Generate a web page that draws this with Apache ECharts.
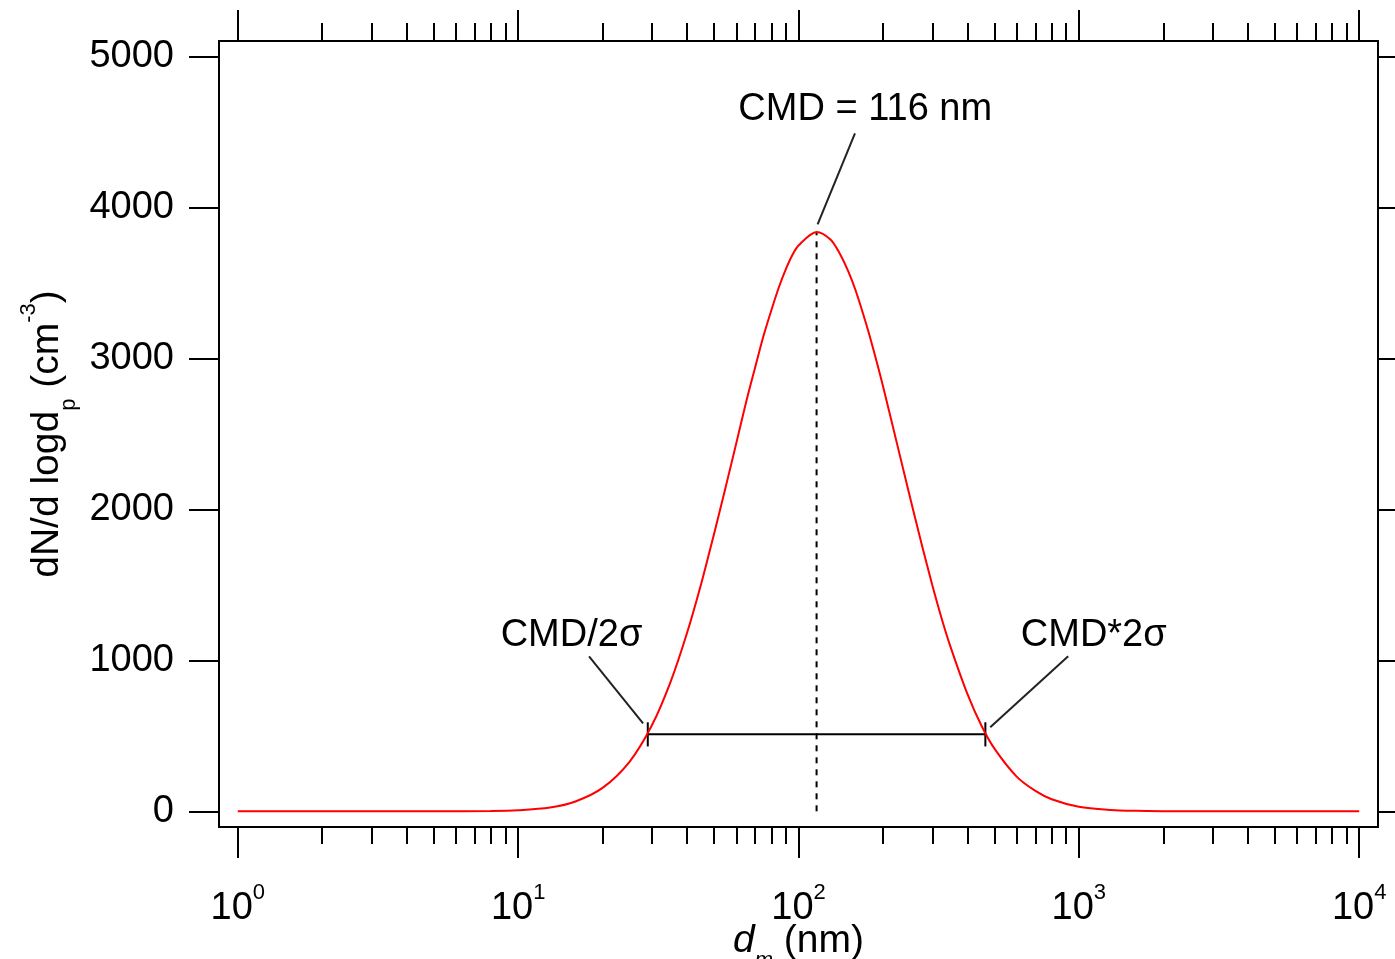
<!DOCTYPE html>
<html><head><meta charset="utf-8">
<script src="https://cdn.jsdelivr.net/npm/echarts@6/dist/echarts.min.js"></script>
<style>html,body{margin:0;padding:0;background:#fff}#c{width:1395px;height:959px}</style>
</head><body><div id="c"></div>
<script>
// ---- data ----
const diameters = [1, 2, 5, 8, 10, 13, 16, 20, 25, 30, 35, 40, 45, 50, 55, 60, 65, 70, 75, 80, 85, 90, 95, 100, 116, 130, 140, 150, 160, 175, 185, 200, 225, 250, 275, 300, 325, 350, 400, 450, 500, 600, 700, 800, 1000, 1300, 1600, 2000, 3000, 5000, 10000];
const dNdlogDp = [0, 0, 0, 2, 7, 25, 65, 155, 330, 570, 860, 1180, 1510, 1840, 2150, 2440, 2710, 2940, 3150, 3320, 3470, 3590, 3685, 3750, 3840, 3790, 3700, 3585, 3450, 3220, 3060, 2820, 2430, 2080, 1770, 1500, 1270, 1080, 780, 565, 415, 230, 135, 80, 30, 9, 3, 1, 0, 0, 0];
const xTickExponents = [0, 1, 2, 3, 4];
const xTickLabels = ['{t|10}{sup|0}', '{t|10}{sup|1}', '{t|10}{sup|2}', '{t|10}{sup|3}', '{t|10}{sup|4}'];
const minorMultipliers = [2, 3, 4, 5, 6, 7, 8, 9];
const yTicks = [0, 1000, 2000, 3000, 4000, 5000];
const cmdValue = 116;
const peakValue = 3840;
const lowerBound = 29;
const upperBound = 464;
const boundLevel = 510;
const annotationTexts = ['CMD = 116 nm', 'CMD/2σ', 'CMD*2σ'];

// ---- layout / style ----
const FONT = "'Liberation Sans', Arial, Helvetica, sans-serif";
const FS = 38;
const BLACK = '#000';
const xLogMin = -0.067, xLogMax = 4.067;
const yMin = -104, yMax = 5105;

const minorLog = [];
xTickExponents.slice(0, -1).forEach(e => minorMultipliers.forEach(m => minorLog.push(Math.log10(m * Math.pow(10, e)))));

const rich = {
  t: {fontSize: 39, fontFamily: FONT, color: BLACK, lineHeight: 46, padding: [10, 0, 0, 0], verticalAlign: 'top'},
  it: {fontSize: 39, fontFamily: FONT, fontStyle: 'italic', color: BLACK, lineHeight: 46, padding: [10, 0, 0, 0], verticalAlign: 'top'},
  sup: {fontSize: 22, fontFamily: FONT, color: BLACK, lineHeight: 22, verticalAlign: 'top'},
  sub: {fontSize: 22, fontFamily: FONT, color: BLACK, lineHeight: 22, padding: [40, 0, 0, 0], verticalAlign: 'top'},
  isub: {fontSize: 22, fontFamily: FONT, fontStyle: 'italic', color: BLACK, lineHeight: 22, padding: [38, 0, 0, 0], verticalAlign: 'top'}
};

function tickAxis(position, values, len, extra) {
  return Object.assign({
    type: 'value', position: position, min: xLogMin, max: xLogMax,
    axisLine: {show: false, onZero: false},
    axisTick: {show: true, customValues: values, length: len, inside: false, lineStyle: {color: BLACK, width: 2}},
    axisLabel: {show: false},
    splitLine: {show: false}
  }, extra || {});
}

const segStyle = (w, type, color) => ({color: color || BLACK, width: w, type: type || 'solid'});
function segment(pts, style) {
  return {type: 'line', data: pts, symbol: 'none', silent: true, lineStyle: style, itemStyle: {color: style.color}, z: 3};
}

const leaderLines = [
  [[159, 4493], [117, 3890]],
  [[17.9, 1027], [27.9, 583]],
  [[916, 1027], [483, 557]]
];
const textAnchors = [[173, 4652], [15.5, 1166], [1130, 1166]];

const series = [
  {
    type: 'line', name: 'dN/dlogDp', smooth: 0.3, symbol: 'none',
    data: diameters.map((d, i) => [d, dNdlogDp[i]]),
    lineStyle: {color: '#ff0000', width: 2}, itemStyle: {color: '#ff0000'}, z: 4
  },
  segment([[cmdValue, 0], [cmdValue, peakValue]], segStyle(2, [6, 6])),
  segment([[lowerBound, boundLevel], [upperBound, boundLevel]], segStyle(2)),
  segment([[lowerBound, boundLevel - 80], [lowerBound, boundLevel + 80]], segStyle(2)),
  segment([[upperBound, boundLevel - 80], [upperBound, boundLevel + 80]], segStyle(2))
];
leaderLines.forEach(l => series.push(segment(l, segStyle(2, 'solid', '#222'))));
series.push({
  type: 'scatter', symbolSize: 0, itemStyle: {color: BLACK, opacity: 1}, silent: true, z: 5,
  data: textAnchors.map((p, i) => ({value: p, label: {formatter: annotationTexts[i]}})),
  label: {show: true, position: 'inside', fontSize: FS, fontFamily: FONT, color: BLACK, opacity: 1, align: 'center', verticalAlign: 'middle', textBorderWidth: 0}
});

const option = {
  animation: false,
  backgroundColor: '#fff',
  grid: {left: 219, right: 17, top: 41, bottom: 132, containLabel: false, outerBoundsMode: 'none'},
  xAxis: [
    {
      type: 'log', logBase: 10, position: 'bottom',
      min: Math.pow(10, xLogMin), max: Math.pow(10, xLogMax),
      axisLine: {show: true, onZero: false, lineStyle: {color: BLACK, width: 2}},
      axisTick: {show: false}, axisLabel: {show: false}, splitLine: {show: false}, minorTick: {show: false}
    },
    tickAxis('bottom', xTickExponents, 31, {
      axisLabel: {
        show: true, customValues: xTickExponents, margin: 55,
        formatter: v => xTickLabels[xTickExponents.indexOf(Math.round(v))],
        rich: {
          t: {fontSize: FS, fontFamily: FONT, color: BLACK, lineHeight: 44, padding: [8, 0, 0, 0], verticalAlign: 'top'},
          sup: {fontSize: 22, fontFamily: FONT, color: BLACK, lineHeight: 22, verticalAlign: 'top'}
        },
        fontSize: FS, fontFamily: FONT, color: BLACK
      },
      name: '{it|d}{isub|m}{t| (nm)}', nameLocation: 'middle', nameGap: 85, nameMoveOverlap: false,
      nameTextStyle: {rich: rich}
    }),
    tickAxis('bottom', minorLog, 17),
    tickAxis('top', xTickExponents, 31, {axisLine: {show: true, onZero: false, lineStyle: {color: BLACK, width: 2}}}),
    tickAxis('top', minorLog, 18)
  ],
  yAxis: [
    {
      type: 'value', position: 'left', min: yMin, max: yMax,
      axisLine: {show: true, onZero: false, lineStyle: {color: BLACK, width: 2}},
      axisTick: {show: true, customValues: yTicks, length: 30, lineStyle: {color: BLACK, width: 2}},
      axisLabel: {show: true, customValues: yTicks, margin: 45, fontSize: FS, fontFamily: FONT, color: BLACK, formatter: v => String(v)},
      splitLine: {show: false},
      name: '{t|dN/d logd}{sub|p}{t| (cm}{sup|-3}{t|)}', nameLocation: 'middle', nameRotate: 90, nameGap: 155, nameMoveOverlap: false,
      nameTextStyle: {rich: rich}
    },
    {
      type: 'value', position: 'right', min: yMin, max: yMax,
      axisLine: {show: true, onZero: false, lineStyle: {color: BLACK, width: 2}},
      axisTick: {show: true, customValues: yTicks, length: 30, lineStyle: {color: BLACK, width: 2}},
      axisLabel: {show: false}, splitLine: {show: false}
    }
  ],
  series: series
};

const chart = echarts.init(document.getElementById('c'), null, {renderer: 'canvas'});
chart.setOption(option);
</script>
</body></html>
